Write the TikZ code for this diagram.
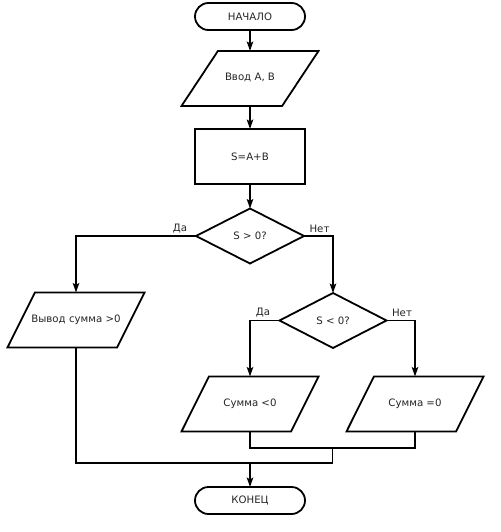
\documentclass[tikz,border=0pt]{standalone}
\usepackage{fontspec}
\setmainfont{DejaVu Sans}
\usetikzlibrary{shapes.geometric,shapes.misc,arrows.meta}
\begin{document}
\begin{tikzpicture}[x=1pt,y=-1pt,
  every node/.style={font=\fontsize{10.2}{12}\selectfont, text=black!85, outer sep=0pt, inner sep=0pt},
  fl/.style={line width=1.8pt, draw=black},
  term/.style={fl, rounded rectangle, minimum width=110pt, minimum height=27pt},
  proc/.style={fl, rectangle, minimum width=110pt, minimum height=55pt},
  io/.style={fl, trapezium, trapezium stretches body, trapezium left angle=#1, trapezium right angle=180-#1, minimum width=137pt, text height=7.5pt, text depth=2.5pt, inner ysep=22.5pt, inner xsep=2pt},
  dec/.style={fl, diamond, minimum width=108pt, minimum height=55pt},
  lbl/.style={font=\fontsize{10.2}{12}\selectfont},
  conn/.style={line width=1.8pt, draw=black},
  arr/.style={conn, -{Stealth[length=9.5pt,width=6.5pt,inset=2pt]}}
]
\useasboundingbox (0,0) rectangle (500,532);
\fill[white] (0,0) rectangle (500,532);

\node[term] (start) at (250,16.5) {НАЧАЛО};
\node[io=56.5] (inp) at (250,78.5) {Ввод А, В};
\node[proc] (sum) at (250,156.5) {S=A+B};
\node[dec] (d1) at (250,236) {S > 0?};
\node[dec, minimum width=107pt] (d2) at (333,320.5) {S < 0?};
\node[io=63.5, inner xsep=-3.5pt] (out1) at (76,320) {Вывод сумма >0};
\node[io=63.5] (out2) at (250,404) {Сумма <0};
\node[io=63.5] (out3) at (415,404) {Сумма =0};
\node[term] (end) at (250,500.5) {КОНЕЦ};

\node[lbl] (yes1) at (180,229) {Да};
\node[lbl] (no1) at (319.5,228.5) {Нет};
\node[lbl] (yes2) at (263,313) {Да};
\node[lbl] (no2) at (402,313) {Нет};

\coordinate (j1) at (332.5,448);
\coordinate (j3) at (332.5,463);
\coordinate (j2) at (250,463);

\draw[arr] (start.south) -- (inp.north);
\draw[arr] (inp.south) -- (sum.north);
\draw[arr] (sum.south) -- (d1.north);
\draw[arr] (d1.west) -| (out1.north);
\draw[arr] (d1.east) -| (d2.north);
\draw[arr] (d2.west) -| (out2.north);
\draw[arr] (d2.east) -| (out3.north);
\draw[conn] (out2.south) |- (j1) -| (out3.south);
\draw[conn] (out1.south) |- (j3) -- (j1);
\draw[arr] (j2) -- (end.north);
\end{tikzpicture}
\end{document}
